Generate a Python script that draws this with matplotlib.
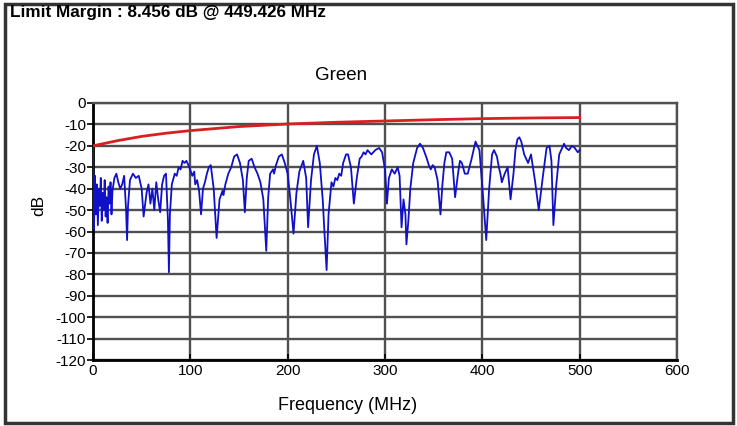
import numpy as np
import matplotlib.pyplot as plt
from matplotlib.patches import Rectangle

plt.rcParams['font.family'] = ['Liberation Sans', 'DejaVu Sans']
plt.rcParams['axes.unicode_minus'] = False

trace = [
    (0, -20), (0.5, -45), (1, -59), (2, -34), (3, -52), (4, -38), (5, -57), (6, -40),
    (7, -48), (8, -35), (9, -55), (10, -42), (11, -50), (12, -36), (13, -53), (14, -44),
    (15, -56), (16, -39), (17, -47), (18, -37), (19, -52), (20, -41), (22, -35),
    (24, -33), (26, -37), (28, -40), (30, -38), (32, -34), (34, -50), (35, -64),
    (36, -48), (38, -36), (41, -33), (44, -35), (47, -34), (50, -40), (52, -53),
    (55, -42), (57, -38), (59, -47), (61, -40), (63, -50), (65, -37), (67, -45),
    (69, -51), (71, -38), (73, -34), (75, -33), (77, -55), (78, -79), (79, -52),
    (81, -38), (84, -33), (86, -34), (88, -30), (90, -31), (92, -27), (94, -28),
    (96, -27), (99, -30), (102, -34), (104, -32), (105, -38), (107, -36), (109, -41),
    (111, -52), (113, -40), (115, -37), (117, -33), (119, -30), (121, -29), (124, -40),
    (127, -63), (130, -45), (133, -41), (134, -43), (136, -38), (139, -33), (142, -30),
    (145, -25), (148, -24), (151, -28), (154, -36), (156, -51), (158, -35), (160, -27),
    (163, -26), (166, -30), (169, -33), (172, -37), (175, -45), (178, -69), (180, -44),
    (182, -33), (185, -31), (186, -33), (188, -29), (191, -25), (194, -24), (197, -28),
    (200, -33), (203, -46), (206, -61), (209, -42), (212, -32), (216, -27), (219, -35),
    (221, -58), (224, -36), (227, -24), (230, -20), (233, -28), (236, -45), (238, -62),
    (240, -78), (242, -52), (245, -37), (247, -39), (249, -35), (251, -36), (253, -33),
    (255, -34), (257, -28), (260, -24), (262, -24), (265, -30), (268, -47), (271, -35),
    (274, -26), (276, -25), (278, -23), (280, -24), (282, -22), (286, -24), (288, -23),
    (290, -22), (294, -21), (297, -23), (300, -31), (302, -47), (304, -35), (307, -31),
    (310, -33), (313, -30), (315, -34), (317, -58), (319, -45), (321, -52), (322, -66),
    (324, -55), (326, -40), (329, -28), (333, -21), (336, -19), (339, -21), (343, -26),
    (345, -29), (347, -31), (349, -29), (351, -30), (354, -36), (357, -52), (359, -38),
    (361, -28), (363, -23), (366, -23), (369, -26), (372, -44), (375, -33), (377, -27),
    (379, -28), (382, -33), (385, -33), (389, -26), (393, -18), (397, -22), (401, -45),
    (404, -64), (407, -40), (410, -24), (412, -22), (415, -25), (417, -30), (419, -34),
    (420, -37), (423, -33), (426, -30), (429, -45), (432, -33), (434, -22), (436, -17),
    (438, -16), (440, -18), (443, -24), (447, -28), (450, -24), (454, -36), (458, -50),
    (462, -35), (466, -21), (469, -20), (471, -27), (473, -57), (476, -38), (479, -24),
    (482, -21), (484, -19), (486, -21), (489, -22), (492, -20), (495, -21), (498, -23),
    (500, -22),
]
freq = [p[0] for p in trace]
level = [p[1] for p in trace]

# limit line
lim_freq = [0, 25, 50, 75, 100, 150, 200, 250, 300, 350, 400, 450, 500]
lim_level = [-20, -17.6, -15.6, -14.1, -12.9, -11.0, -9.8, -9.0, -8.4, -7.8, -7.3, -7.0, -6.8]

fig = plt.figure(figsize=(7.37, 4.26), dpi=100)
ax = fig.add_axes([93/737, 1 - 360/426, 584/737, 257/426])

ax.plot(freq, level, color='#1010c8', lw=1.3, zorder=3)
ax.plot(lim_freq, lim_level, color='#d82020', lw=2.0, zorder=4)

ax.set_xlim(0, 600)
ax.set_ylim(-120, 0)
ax.set_xticks(range(0, 601, 100))
ax.set_yticks(range(-120, 1, 10))
ax.grid(True, color='#505050', lw=1.7)
ax.set_axisbelow(True)
ax.tick_params(axis='both', labelsize=11, length=4, width=1.2, color='black', pad=1)
ax.tick_params(axis='x', direction='in', pad=3)
for s in ax.spines.values():
    s.set_color('#505050')
    s.set_linewidth(1.7)
ax.spines['left'].set_color('black')
ax.spines['bottom'].set_color('black')
ax.spines['left'].set_linewidth(2)
ax.spines['bottom'].set_linewidth(2)

fig.text(341/737, 1 - 75/426, 'Green', ha='center', va='center', fontsize=13.5)
fig.text(348/737, 1 - 406/426, 'Frequency (MHz)', ha='center', va='center', fontsize=13)
fig.text(39/737, 1 - 205/426, 'dB', ha='center', va='center', rotation=90, fontsize=12.5)
fig.text(10/737, 1 - 13/426, 'Limit Margin : 8.456 dB @ 449.426 MHz', ha='left',
         va='center', fontsize=12.3, fontweight='bold')

fig.patches.append(Rectangle((5/737, 3/426), 728/737, 419/426, transform=fig.transFigure,
                             fill=False, edgecolor='#333333', lw=2.5))

fig.savefig('out.png', dpi=100)
